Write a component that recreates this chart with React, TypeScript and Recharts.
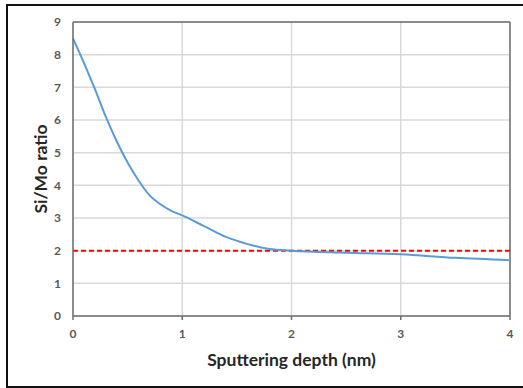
import React from 'react'
import {
  LineChart,
  Line,
  XAxis,
  YAxis,
  CartesianGrid,
  ReferenceLine
} from 'recharts'

// depth (nm) and Si/Mo ratio
const depth = [0, 0.1, 0.2, 0.3, 0.4, 0.5, 0.6, 0.7, 0.8, 0.9, 1.0, 1.2, 1.4, 1.6, 1.8, 2.0, 2.5, 3.0, 3.5, 4.0]
const ratio = [8.5, 7.75, 6.95, 6.1, 5.35, 4.7, 4.15, 3.7, 3.42, 3.22, 3.08, 2.75, 2.42, 2.2, 2.05, 2.0, 1.94, 1.89, 1.78, 1.71]
const xTicks = [0, 1, 2, 3, 4]
const yTicks = [0, 1, 2, 3, 4, 5, 6, 7, 8, 9]
const stoichLevel = 2

const data = depth.map((d, i) => ({ depth: d, ratio: ratio[i] }))

const FONT = 'Lato, "Open Sans", sans-serif'
const tickStyle = { fontSize: 12, fill: '#595959', fontFamily: FONT, fontWeight: 700 }

export default function App(): React.JSX.Element {
  return (
    <div style={{ position: 'absolute', left: 0, top: 0, width: 523, height: 388, background: '#fff', overflow: 'hidden' }}>
      {/* outer frame */}
      <div
        style={{
          position: 'absolute',
          left: 6,
          top: 4,
          width: 540,
          height: 380,
          border: '2px solid #111'
        }}
      />
      <div style={{ position: 'absolute', left: 0, top: 0 }}>
        <LineChart width={523} height={388} data={data} margin={{ top: 22, right: 13, left: 0, bottom: 0 }}>
          <CartesianGrid stroke="#d9d9d9" strokeWidth={1.5} />
          <XAxis
            dataKey="depth"
            type="number"
            domain={[0, 4]}
            ticks={xTicks}
            height={72}
            tick={tickStyle}
            tickSize={4}
            tickMargin={9}
            axisLine={{ stroke: '#6f6f6f', strokeWidth: 1.5 }}
            tickLine={{ stroke: '#6f6f6f', strokeWidth: 1.5 }}
            label={{
              value: 'Sputtering depth (nm)',
              position: 'center',
              dy: 8,
              fontSize: 17.5,
              fontWeight: 700,
              fill: '#262626',
              fontFamily: FONT
            }}
          />
          <YAxis
            type="number"
            domain={[0, 9]}
            ticks={yTicks}
            width={73}
            tick={tickStyle}
            tickLine={false}
            tickSize={6}
            tickMargin={6}
            axisLine={{ stroke: '#6f6f6f', strokeWidth: 1.5 }}
            label={{
              value: 'Si/Mo ratio',
              angle: -90,
              position: 'center',
              dx: 4,
              fontSize: 17.5,
              fontWeight: 700,
              fill: '#262626',
              fontFamily: FONT
            }}
          />
          {/* top and right plot borders */}
          <ReferenceLine y={9} stroke="#6f6f6f" strokeWidth={1.5} />
          <ReferenceLine x={4} stroke="#6f6f6f" strokeWidth={1.5} />
          <ReferenceLine y={stoichLevel} stroke="#ff0000" strokeWidth={2} strokeDasharray="5 3" />
          <Line
            type="monotone"
            dataKey="ratio"
            stroke="#5b9bd5"
            strokeWidth={2}
            dot={false}
            isAnimationActive={false}
          />
        </LineChart>
      </div>
    </div>
  )
}
